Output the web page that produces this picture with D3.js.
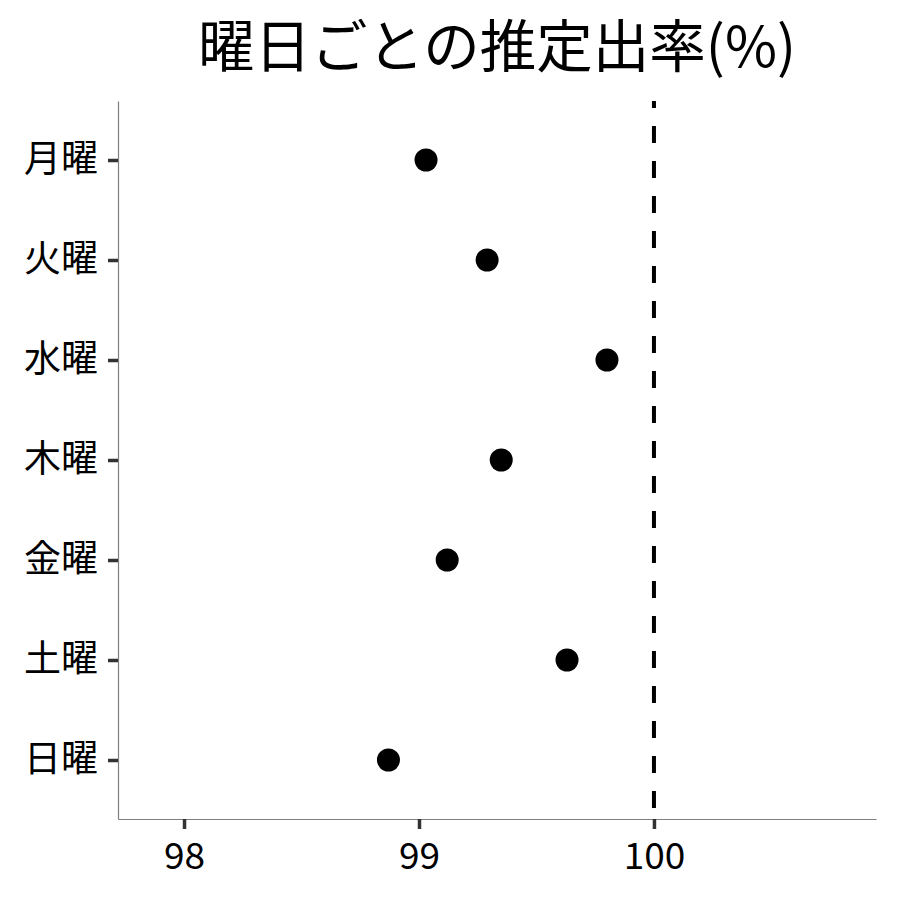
<!DOCTYPE html>
<meta charset="utf-8">
<style>
body { margin: 0; background: #fff; }
text { font-family: "Noto Sans CJK JP", "Noto Sans", sans-serif; }
.title { font-size: 56.5px; }
.axis text { font-size: 37px; fill: #000; }
.axis .domain { stroke: #7f7f7f; stroke-width: 1.2px; }
.axis .tick line { stroke: #333; stroke-width: 3.5px; }
</style>
<body>
<svg width="900" height="900"></svg>
</body>
<script src="https://cdn.jsdelivr.net/npm/d3@7"></script>
<script>

var days = ["月曜", "火曜", "水曜", "木曜", "金曜", "土曜", "日曜"];
var rates = [99.03, 99.29, 99.80, 99.35, 99.12, 99.63, 98.87];
var xTicks = [98, 99, 100];
var refLine = 100;

var svg = d3.select("svg"),
    margin = {top: 101, right: 24, bottom: 81, left: 118},
    width = +svg.attr("width") - margin.left - margin.right,
    height = +svg.attr("height") - margin.top - margin.bottom;

var x = d3.scaleLinear()
    .domain([97.719, 100.945])
    .range([0, width]);

var y = d3.scalePoint()
    .domain(days)
    .range([0, height])
    .padding(0.59);

var g = svg.append("g")
    .attr("transform", "translate(" + margin.left + "," + margin.top + ")");

// title
svg.append("text")
    .attr("class", "title")
    .attr("x", margin.left + width / 2)
    .attr("y", 67)
    .attr("text-anchor", "middle")
    .text("曜日ごとの推定出率(%)");

// x axis
g.append("g")
    .attr("class", "axis")
    .attr("transform", "translate(0," + height + ")")
    .call(d3.axisBottom(x).tickValues(xTicks).tickFormat(d3.format("d"))
      .tickSize(10).tickPadding(9).tickSizeOuter(0))
  .selectAll("text")
    .attr("dy", "0.85em");

// y axis
g.append("g")
    .attr("class", "axis")
    .call(d3.axisLeft(y).tickSize(10).tickPadding(10).tickSizeOuter(0));

// reference line
g.append("line")
    .attr("x1", x(refLine))
    .attr("x2", x(refLine))
    .attr("y1", 0)
    .attr("y2", height)
    .attr("stroke", "#000")
    .attr("stroke-width", 4)
    .attr("stroke-dasharray", "17,18")
    .attr("stroke-dashoffset", 10);

// points
g.selectAll("circle")
    .data(days)
  .enter().append("circle")
    .attr("cx", function(d, i) { return x(rates[i]); })
    .attr("cy", function(d) { return y(d); })
    .attr("r", 11.5)
    .attr("fill", "#000");

</script>
